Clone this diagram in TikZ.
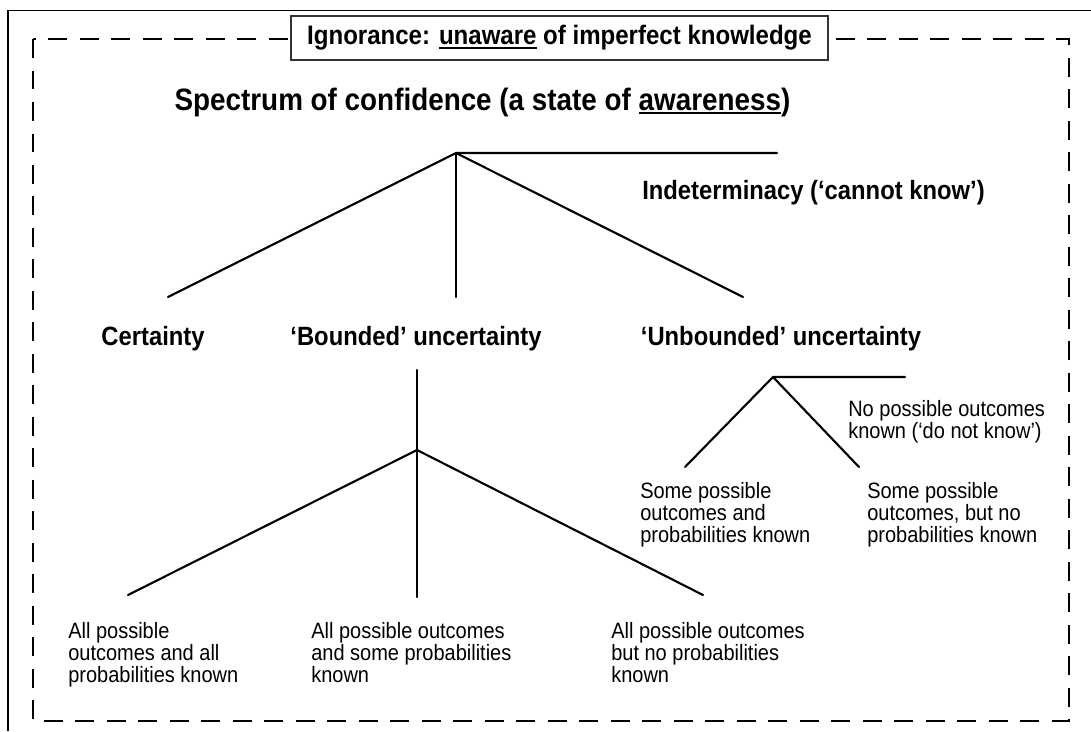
\documentclass[tikz,border=0pt]{standalone}
\usepackage{fontspec}
\setmainfont{Liberation Sans}[FakeStretch=0.9]

% underline drawn as a rule, thicker than \underline
\newcommand{\undl}[1]{\setbox0=\hbox{#1}\rlap{\rule[-2.8pt]{\wd0}{1.5pt}}\box0\relax}

\begin{document}
\begin{tikzpicture}[
    x=0.025cm, y=-0.025cm, % one unit = one pixel of the reference
    branch/.style={line width=1.5pt, line cap=round}, % tree lines
    head/.style={font=\fontsize{18.8}{22}\selectfont\bfseries, inner sep=0pt}, % bold labels
    leaf/.style={font=\fontsize{15.8}{15.65}\selectfont, align=left, anchor=north west, inner sep=0pt} % small labels
]
\useasboundingbox (0,0) rectangle (1091,731);

% Outer frame (cut off at right and bottom)
\draw[line width=1pt] (8,731) -- (8,10.5) -- (1091,10.5);

% Dashed frame
\draw[line width=1.8pt, dash pattern=on 13.5pt off 8.9pt] (33,39) rectangle (1069,721);

% Title box over the dashed frame
\node[draw=black!80, line width=1.1pt, fill=white, minimum width=13.425cm, minimum height=1.1cm,
    font=\fontsize{19}{22}\selectfont\bfseries] (title) at (559.5,38) {Ignorance: \undl{unaware} of imperfect knowledge};

% Heading
\node[head, font=\fontsize{22}{26}\selectfont\bfseries, anchor=base] (spectrum) at (482.5,110) {Spectrum of confidence (a state of \undl{awareness})};

% Upper tree
\coordinate (apex)  at (456,153);
\coordinate (apexH) at (777,153);
\coordinate (apexL) at (168,297);
\coordinate (apexM) at (456,297);
\coordinate (apexR) at (743,297);
\draw[branch] (apexL) -- (apex) -- (apexH);
\draw[branch] (apex) -- (apexM);
\draw[branch] (apex) -- (apexR);

\node[head, anchor=base west] (indet) at (642,199) {Indeterminacy (‘cannot know’)};
\node[head, anchor=base] (certainty) at (153,345) {Certainty};
\node[head, anchor=base] (bounded) at (416,345) {‘Bounded’ uncertainty};
\node[head, anchor=base] (unbounded) at (781,345) {‘Unbounded’ uncertainty};

% Bounded branch
\coordinate (bTop)  at (417,370);
\coordinate (bApex) at (417,450);
\coordinate (bL) at (128,595);
\coordinate (bM) at (417,597);
\coordinate (bR) at (703,595);
\draw[branch] (bTop) -- (bApex) -- (bM);
\draw[branch] (bL) -- (bApex) -- (bR);

% Unbounded branch
\coordinate (uApex) at (773,377);
\coordinate (uH) at (905,377);
\coordinate (uL) at (685,467);
\coordinate (uR) at (859,467);
\draw[branch] (uL) -- (uApex) -- (uH);
\draw[branch] (uApex) -- (uR);

% Leaves
\node[leaf] (noout) at (848,400) {No possible outcomes\\known (‘do not know’)};
\node[leaf] (someprob) at (640,482) {Some possible\\outcomes and\\probabilities known};
\node[leaf] (somenoprob) at (867,482) {Some possible\\outcomes, but no\\probabilities known};
\node[leaf] (allall) at (68,622) {All possible\\outcomes and all\\probabilities known};
\node[leaf] (allsome) at (311,622) {All possible outcomes\\and some probabilities\\known};
\node[leaf] (allnone) at (611,622) {All possible outcomes\\but no probabilities\\known};

\end{tikzpicture}
\end{document}
